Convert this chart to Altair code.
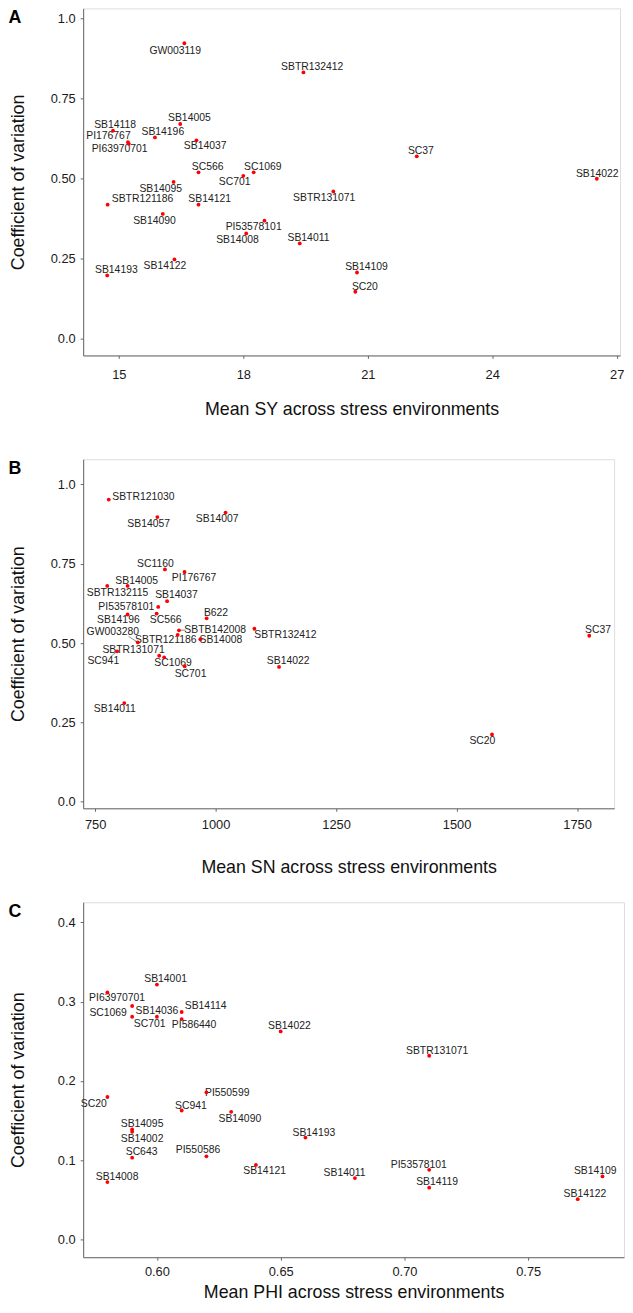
import altair as alt
import pandas as pd

FONT = "Liberation Sans"

# ---------------- Panel A : SY ----------------
a_names = ["GW003119", "SBTR132412", "SB14118", "PI176767", "PI63970701", "SB14005",
           "SB14196", "SB14037", "SC37", "SC566", "SC1069", "SC701", "SB14022",
           "SB14095", "SBTR131071", "SBTR121186", "SB14121", "SB14090", "PI53578101",
           "SB14008", "SB14011", "SB14122", "SB14193", "SB14109", "SC20"]
a_mean = [16.58, 19.45, 14.86, 15.22, 15.24, 16.48, 15.87, 16.87, 22.18, 16.92, 18.25,
          18.00, 26.52, 16.32, 20.17, 14.73, 16.92, 16.06, 18.51, 18.07, 19.36, 16.34,
          14.72, 20.74, 20.70]
a_cv = [0.922, 0.831, 0.649, 0.613, 0.608, 0.670, 0.628, 0.619, 0.569, 0.519, 0.519,
        0.508, 0.499, 0.489, 0.459, 0.418, 0.418, 0.389, 0.368, 0.328, 0.297, 0.247,
        0.197, 0.206, 0.146]
a_lab_x = [16.36, 19.66, 14.91, 14.75, 15.02, 16.70, 16.06, 17.08, 22.28, 17.14, 18.47,
           17.79, 26.53, 16.01, 19.95, 15.57, 17.19, 15.86, 18.25, 17.86, 19.57, 16.11,
           14.94, 20.97, 20.93]
a_lab_y = [0.899, 0.847, 0.668, 0.632, 0.591, 0.688, 0.646, 0.601, 0.587, 0.536, 0.537,
           0.490, 0.515, 0.467, 0.438, 0.434, 0.435, 0.368, 0.349, 0.308, 0.314, 0.226,
           0.214, 0.223, 0.161]
a_xticks = [15, 18, 21, 24, 27]
a_yticks = [0.0, 0.25, 0.5, 0.75, 1.0]

# ---------------- Panel B : SN ----------------
b_names = ["SBTR121030", "SB14057", "SB14007", "SC1160", "PI176767", "SB14005",
           "SBTR132115", "SB14037", "PI53578101", "SB14196", "SC566", "B622",
           "SBTB142008", "SBTR121186", "SB14008", "SBTR132412", "SC37", "GW003280",
           "SBTR131071", "SC941", "SC1069", "SC701", "SB14022", "SB14011", "SC20"]
b_mean = [778.3, 879.1, 1020.7, 894.9, 935.5, 817.4, 775.2, 899.4, 880.9, 817.4, 877.7,
          981.4, 924.0, 921.3, 968.4, 1080.5, 1775.2, 838.7, 883.0, 795.7, 893.2, 935.7,
          1131.6, 810.5, 1573.4]
b_cv = [0.952, 0.897, 0.911, 0.732, 0.724, 0.680, 0.680, 0.632, 0.614, 0.590, 0.593,
        0.578, 0.540, 0.526, 0.512, 0.545, 0.523, 0.502, 0.460, 0.474, 0.455, 0.427,
        0.425, 0.311, 0.212]
b_lab_x = [850.2, 861.1, 1003.3, 875.0, 955.3, 836.3, 796.5, 918.9, 814.8, 798.2, 896.5,
           1000.8, 999.2, 896.7, 1010.9, 1144.7, 1793.4, 786.7, 829.7, 767.0, 911.7, 948.0,
           1150.6, 790.8, 1553.5]
b_lab_y = [0.960, 0.876, 0.891, 0.749, 0.705, 0.694, 0.659, 0.650, 0.614, 0.571, 0.572,
           0.596, 0.541, 0.510, 0.508, 0.525, 0.540, 0.536, 0.479, 0.443, 0.438, 0.401,
           0.443, 0.291, 0.191]
b_lead_names = ["GW003280", "SBTB142008", "SC941", "SC701"]
b_lead_x = [819.5, 937.7, 782.0, 939.1]
b_lead_y = [0.521, 0.541, 0.457, 0.420]
b_xticks = [750, 1000, 1250, 1500, 1750]
b_yticks = [0.0, 0.25, 0.5, 0.75, 1.0]

# ---------------- Panel C : PHI ----------------
c_names = ["SB14001", "PI63970701", "SC1069", "SB14036", "SC701", "SB14114", "PI586440",
           "SB14022", "SBTR131071", "PI550599", "SC20", "SC941", "SB14090", "SB14095",
           "SB14002", "SB14193", "SC643", "PI550586", "SB14121", "PI53578101", "SB14011",
           "SB14008", "SB14109", "SB14119", "SB14122"]
c_mean = [0.60, 0.58, 0.59, 0.60, 0.59, 0.61, 0.61, 0.65, 0.71, 0.62, 0.58, 0.61, 0.63,
          0.59, 0.59, 0.66, 0.59, 0.62, 0.64, 0.71, 0.68, 0.58, 0.78, 0.71, 0.77]
c_cv = [0.3215, 0.3115, 0.2945, 0.281, 0.281, 0.287, 0.278, 0.2625, 0.2318, 0.1857,
        0.1798, 0.1628, 0.1611, 0.139, 0.136, 0.1287, 0.1034, 0.105, 0.0942, 0.088,
        0.0776, 0.0726, 0.0797, 0.0656, 0.0511]
c_lab_x = [0.6035, 0.5839, 0.5803, 0.6000, 0.5971, 0.6197, 0.6150, 0.6535, 0.7132, 0.6284,
           0.5745, 0.6137, 0.6335, 0.5940, 0.5940, 0.6634, 0.5938, 0.6166, 0.6435, 0.7058,
           0.6758, 0.5839, 0.7771, 0.7132, 0.7729]
c_lab_y = [0.329, 0.304, 0.286, 0.288, 0.272, 0.294, 0.270, 0.269, 0.238, 0.185, 0.171,
           0.169, 0.152, 0.146, 0.127, 0.135, 0.110, 0.113, 0.086, 0.094, 0.084, 0.079,
           0.087, 0.073, 0.058]
c_xticks = [0.60, 0.65, 0.70, 0.75]
c_yticks = [0.0, 0.1, 0.2, 0.3, 0.4]

Y_TITLE = "Coefficient of variation"
Y_EXPR_2 = "datum.value == 0 ? '0.0' : (datum.value == 1 ? '1.0' : format(datum.value, '.2f'))"


def make_panel(letter, names, xs, ys, lx, ly, x_title, x_domain, x_ticks, x_fmt,
               y_domain, y_ticks, y_expr, y_fmt, width, height,
               x_lab_pad, x_title_pad, y_title_pad, leaders=None):
    df = pd.DataFrame({"name": names, "mx": xs, "cv": ys, "lx": lx, "ly": ly})
    xscale = alt.Scale(domain=x_domain, nice=False, zero=False)
    yscale = alt.Scale(domain=y_domain, nice=False, zero=False)
    xaxis_kw = dict(values=x_ticks, format=x_fmt, grid=False, tickSize=3,
                    labelPadding=x_lab_pad, titlePadding=x_title_pad,
                    labelFontSize=13, titleFontSize=18, titleFontWeight="normal",
                    labelFont=FONT, titleFont=FONT, labelColor="#1a1a1a",
                    titleColor="#111111", domainColor="#666666", tickColor="#666666",
                    labelFlush=False)
    yaxis_kw = dict(values=y_ticks, grid=False, tickSize=3, labelPadding=5,
                    titlePadding=y_title_pad, labelFontSize=13, titleFontSize=18,
                    titleFontWeight="normal", labelFont=FONT, titleFont=FONT,
                    labelColor="#1a1a1a", titleColor="#111111", domainColor="#666666",
                    tickColor="#666666", labelFlush=False)
    if y_expr:
        yaxis_kw["labelExpr"] = y_expr
    else:
        yaxis_kw["format"] = y_fmt
    xaxis = alt.Axis(**xaxis_kw)
    yaxis = alt.Axis(**yaxis_kw)

    base = alt.Chart(df)
    labels = base.mark_text(font=FONT, fontSize=10.5, color="#222222",
                            align="center", baseline="middle").encode(
        x=alt.X("lx:Q", scale=xscale, axis=xaxis, title=x_title),
        y=alt.Y("ly:Q", scale=yscale, axis=yaxis, title=Y_TITLE),
        text="name:N",
    )
    points = base.mark_circle(color="#ff0000", size=15, opacity=1).encode(
        x=alt.X("mx:Q", scale=xscale, axis=xaxis, title=x_title),
        y=alt.Y("cv:Q", scale=yscale, axis=yaxis, title=Y_TITLE),
    )
    tag = alt.Chart(pd.DataFrame({"t": [letter]})).mark_text(
        font=FONT, fontSize=18, fontWeight="bold", color="#000000",
        align="center", baseline="middle").encode(
        text="t:N", x=alt.value(-69), y=alt.value(10))
    layers = [labels]
    if leaders is not None:
        ldf = pd.DataFrame(leaders)
        lines = alt.Chart(ldf).mark_rule(color="#555555", strokeWidth=0.7).encode(
            x=alt.X("mx:Q", scale=xscale, axis=xaxis, title=x_title),
            y=alt.Y("cv:Q", scale=yscale, axis=yaxis, title=Y_TITLE),
            x2="ex:Q", y2="ey:Q",
        )
        layers.append(lines)
    layers += [points, tag]
    return alt.layer(*layers).properties(width=width, height=height)


lead_pts = {n: (x, y) for n, x, y in zip(b_names, b_mean, b_cv)}
b_leaders = {
    "mx": [lead_pts[n][0] for n in b_lead_names],
    "cv": [lead_pts[n][1] for n in b_lead_names],
    "ex": b_lead_x,
    "ey": b_lead_y,
}

pA = make_panel("A", a_names, a_mean, a_cv, a_lab_x, a_lab_y,
                "Mean SY across stress environments", [14.14, 27.08], a_xticks, "d",
                [-0.053, 1.031], a_yticks, Y_EXPR_2, None, 543, 351,
                10, 20, 23)
pB = make_panel("B", b_names, b_mean, b_cv, b_lab_x, b_lab_y,
                "Mean SN across stress environments", [725.2, 1826.8], b_xticks, "d",
                [-0.0205, 1.079], b_yticks, Y_EXPR_2, None, 537, 353,
                7, 28, 23, leaders=b_leaders)
pC = make_panel("C", c_names, c_mean, c_cv, c_lab_x, c_lab_y,
                "Mean PHI across stress environments", [0.5702, 0.7887], c_xticks, ".2f",
                [-0.0221, 0.4253], c_yticks, None, ".1f", 547, 359,
                5, 6, 30)

top = alt.vconcat(pA, pB, spacing=39)
chart = alt.vconcat(top, pC, spacing=24).properties(
    padding={"left": 0, "top": -8, "right": 0, "bottom": 0}
).configure_view(stroke=None).configure(background="white")

chart.save("out.html", embed_options={"renderer": "svg", "actions": False})
